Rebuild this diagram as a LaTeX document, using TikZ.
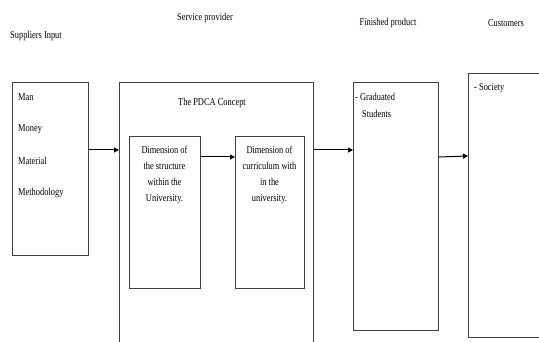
\documentclass[tikz,border=0pt]{standalone}
\usepackage{fontspec}
\setmainfont[FakeStretch=0.8]{Liberation Serif}
\usetikzlibrary{arrows.meta}
\begin{document}
\begin{tikzpicture}[x=1pt,y=-1pt,
  box/.style={draw=black!75, line width=0.6pt, rectangle, inner sep=0pt, anchor=north west},
  txt/.style={inner sep=0pt, font=\fontsize{10.5}{16}\selectfont},
  arr/.style={draw=black, line width=1pt, -{Triangle[length=5pt,width=5pt]}}]
\useasboundingbox (0,0) rectangle (539,342);
\clip (0,0) rectangle (539,342);
% headers
\node[txt, anchor=west] (hsup) at (10,36) {Suppliers Input};
\node[txt] (hsvc) at (205,18) {Service provider};
\node[txt] (hfin) at (388,23) {Finished product};
\node[txt] (hcus) at (506,23) {Customers};
% boxes
\node[box, minimum width=76pt, minimum height=173pt] (sup) at (12,82) {};
\node[box, minimum width=194pt, minimum height=300pt] (svc) at (119,82) {};
\node[box, minimum width=71pt, minimum height=152pt] (d1) at (129,136) {};
\node[box, minimum width=69pt, minimum height=152pt] (d2) at (235,136) {};
\node[box, minimum width=85pt, minimum height=248pt] (fin) at (353,82) {};
\node[box, minimum width=90pt, minimum height=264pt] (cus) at (468,73) {};
% texts
\node[txt, anchor=west] (t1) at (18,97) {Man};
\node[txt, anchor=west] (t2) at (18,129) {Money};
\node[txt, anchor=west] (t3) at (18,161) {Material};
\node[txt, anchor=west] (t4) at (18,193) {Methodology};
\node[txt] (pdca) at (212,103) {The PDCA Concept};
\node[txt, align=center, anchor=north] (d1t) at (164.5,145.5) {Dimension of\\the structure\\within the\\University.};
\node[txt, align=center, anchor=north] (d2t) at (269.5,145.5) {Dimension of\\curriculum with\\in the\\university.};
\node[txt, anchor=west] (g1) at (355,97) {- Graduated};
\node[txt, anchor=west] (g2) at (362,114) {Students};
\node[txt, anchor=west] (s1) at (474,88) {- Society};
% arrows
\coordinate (ya) at (0,150);
\coordinate (yb) at (0,157);
\draw[arr] (sup.east |- ya) -- (svc.west |- ya);
\draw[arr] (d1.east |- yb) -- (d2.west |- yb);
\draw[arr] (svc.east |- ya) -- (fin.west |- ya);
\draw[arr] (fin.east |- yb) -- ([yshift=1pt]cus.west |- yb);
\end{tikzpicture}
\end{document}
